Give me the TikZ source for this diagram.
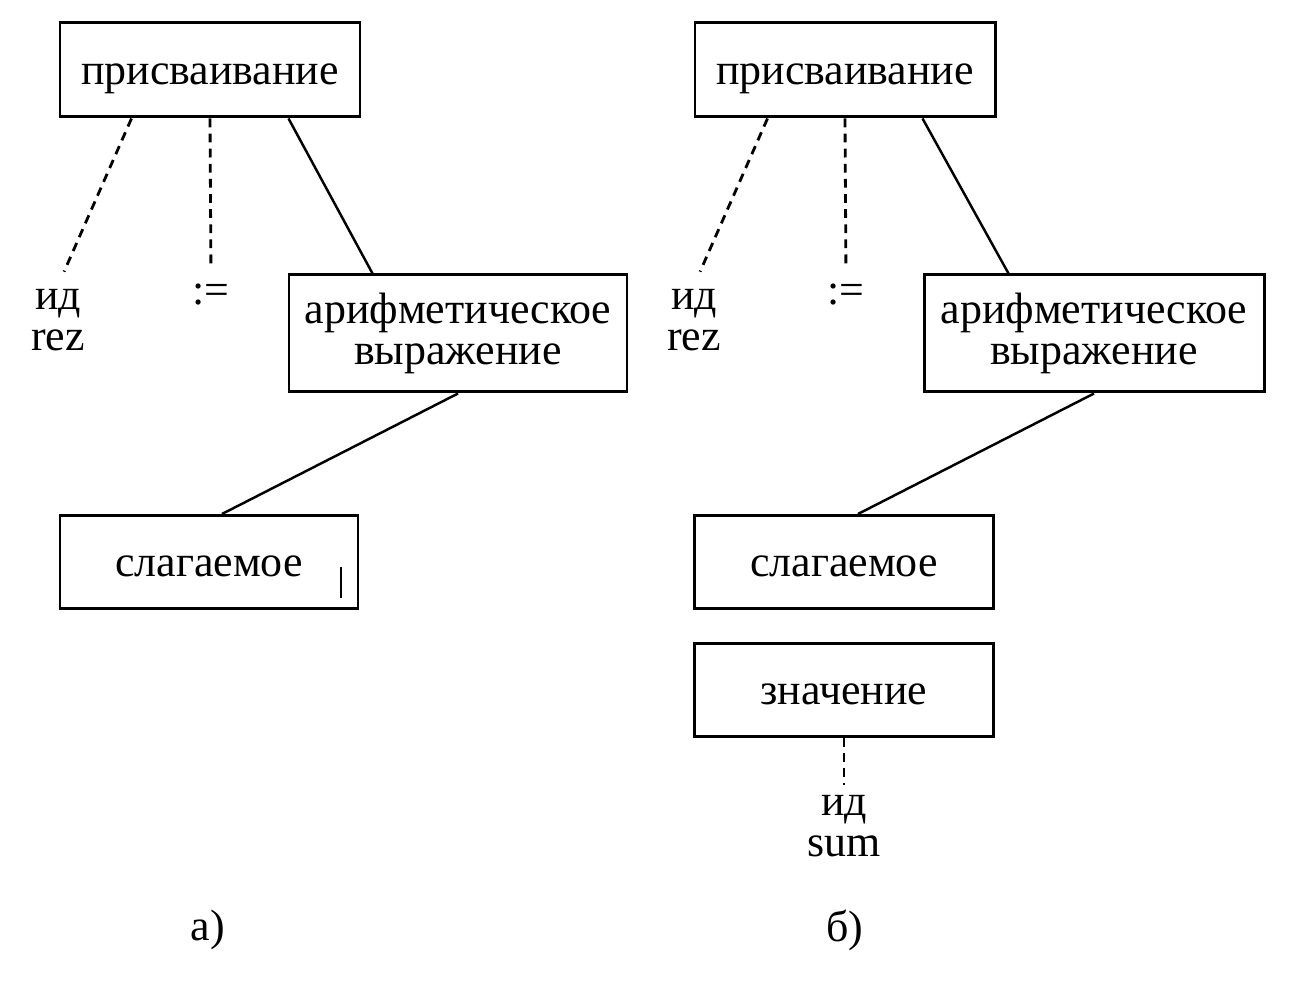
\documentclass[tikz,border=0pt]{standalone}
\usepackage{fontspec}
\setmainfont{Liberation Serif}
\usepackage{tikz}

\tikzset{
  box/.style={draw, line width=1.7pt, inner sep=0pt, align=center,
    minimum width=6cm, minimum height=1.88cm,
    font=\fontsize{25}{23.2}\selectfont},
  onebox/.style={box, text height=17pt, text depth=0pt},
  lbl/.style={align=center, inner sep=2pt, font=\fontsize{25}{23.2}\selectfont},
  link/.style={line width=1.4pt},
  dlink/.style={link, line width=1.6pt, dash pattern=on 5pt off 3.6pt, shorten >=0.3cm}
}

\begin{document}
\begin{tikzpicture}
    \useasboundingbox (0,0) rectangle (26,20);
    % Tree a)
    \node[onebox] (pa) at (4.2,18.6) {присваивание};
    \node[box, minimum width=6.76cm, minimum height=2.34cm] (aa) at (9.16,13.33) {арифметическое\\выражение};
    \node[onebox, minimum width=5.96cm, minimum height=1.86cm] (sa) at (4.18,8.76) {слагаемое};
    \node[lbl] (ida) at (1.16,13.6) {ид\\rez};
    \node[lbl] (asa) at (4.22,14.1) {:=};
    \node[lbl] (capa) at (4.16,1.4) {а)};
    \draw[dlink] ([xshift=1.46cm]pa.south west) -- (ida.north);
    \draw[dlink] (pa.south) -- (asa.north);
    \draw[link] ([xshift=4.6cm]pa.south west) -- ([xshift=1.7cm]aa.north west);
    \draw[link] (aa.south) -- ([xshift=0.26cm]sa.north);
    % Cursor mark inside the box
    \draw[line width=1.5pt] ([xshift=2.64cm,yshift=-0.1cm]sa.center) -- ++(0,-0.62);
    % Tree b)
    \node[onebox] (pb) at (16.9,18.6) {присваивание};
    \node[box, minimum width=6.8cm, minimum height=2.34cm] (ab) at (21.88,13.33) {арифметическое\\выражение};
    \node[onebox, minimum width=5.98cm, minimum height=1.86cm] (sb) at (16.88,8.76) {слагаемое};
    \node[onebox, minimum width=5.98cm, minimum height=1.86cm] (vb) at (16.88,6.2) {значение};
    \node[lbl] (idb) at (13.88,13.6) {ид\\rez};
    \node[lbl] (asb) at (16.92,14.1) {:=};
    \node[lbl] (ids) at (16.88,3.48) {ид\\sum};
    \node[lbl] (capb) at (16.9,1.4) {б)};
    \draw[dlink] ([xshift=1.48cm]pb.south west) -- (idb.north);
    \draw[dlink] (pb.south) -- (asb.north);
    \draw[link] ([xshift=4.58cm]pb.south west) -- ([xshift=1.72cm]ab.north west);
    \draw[link] (ab.south) -- ([xshift=0.28cm]sb.north);
    \draw[dlink, shorten >=0.12cm] (vb.south) -- (ids.north);
  \end{tikzpicture}
\end{document}
